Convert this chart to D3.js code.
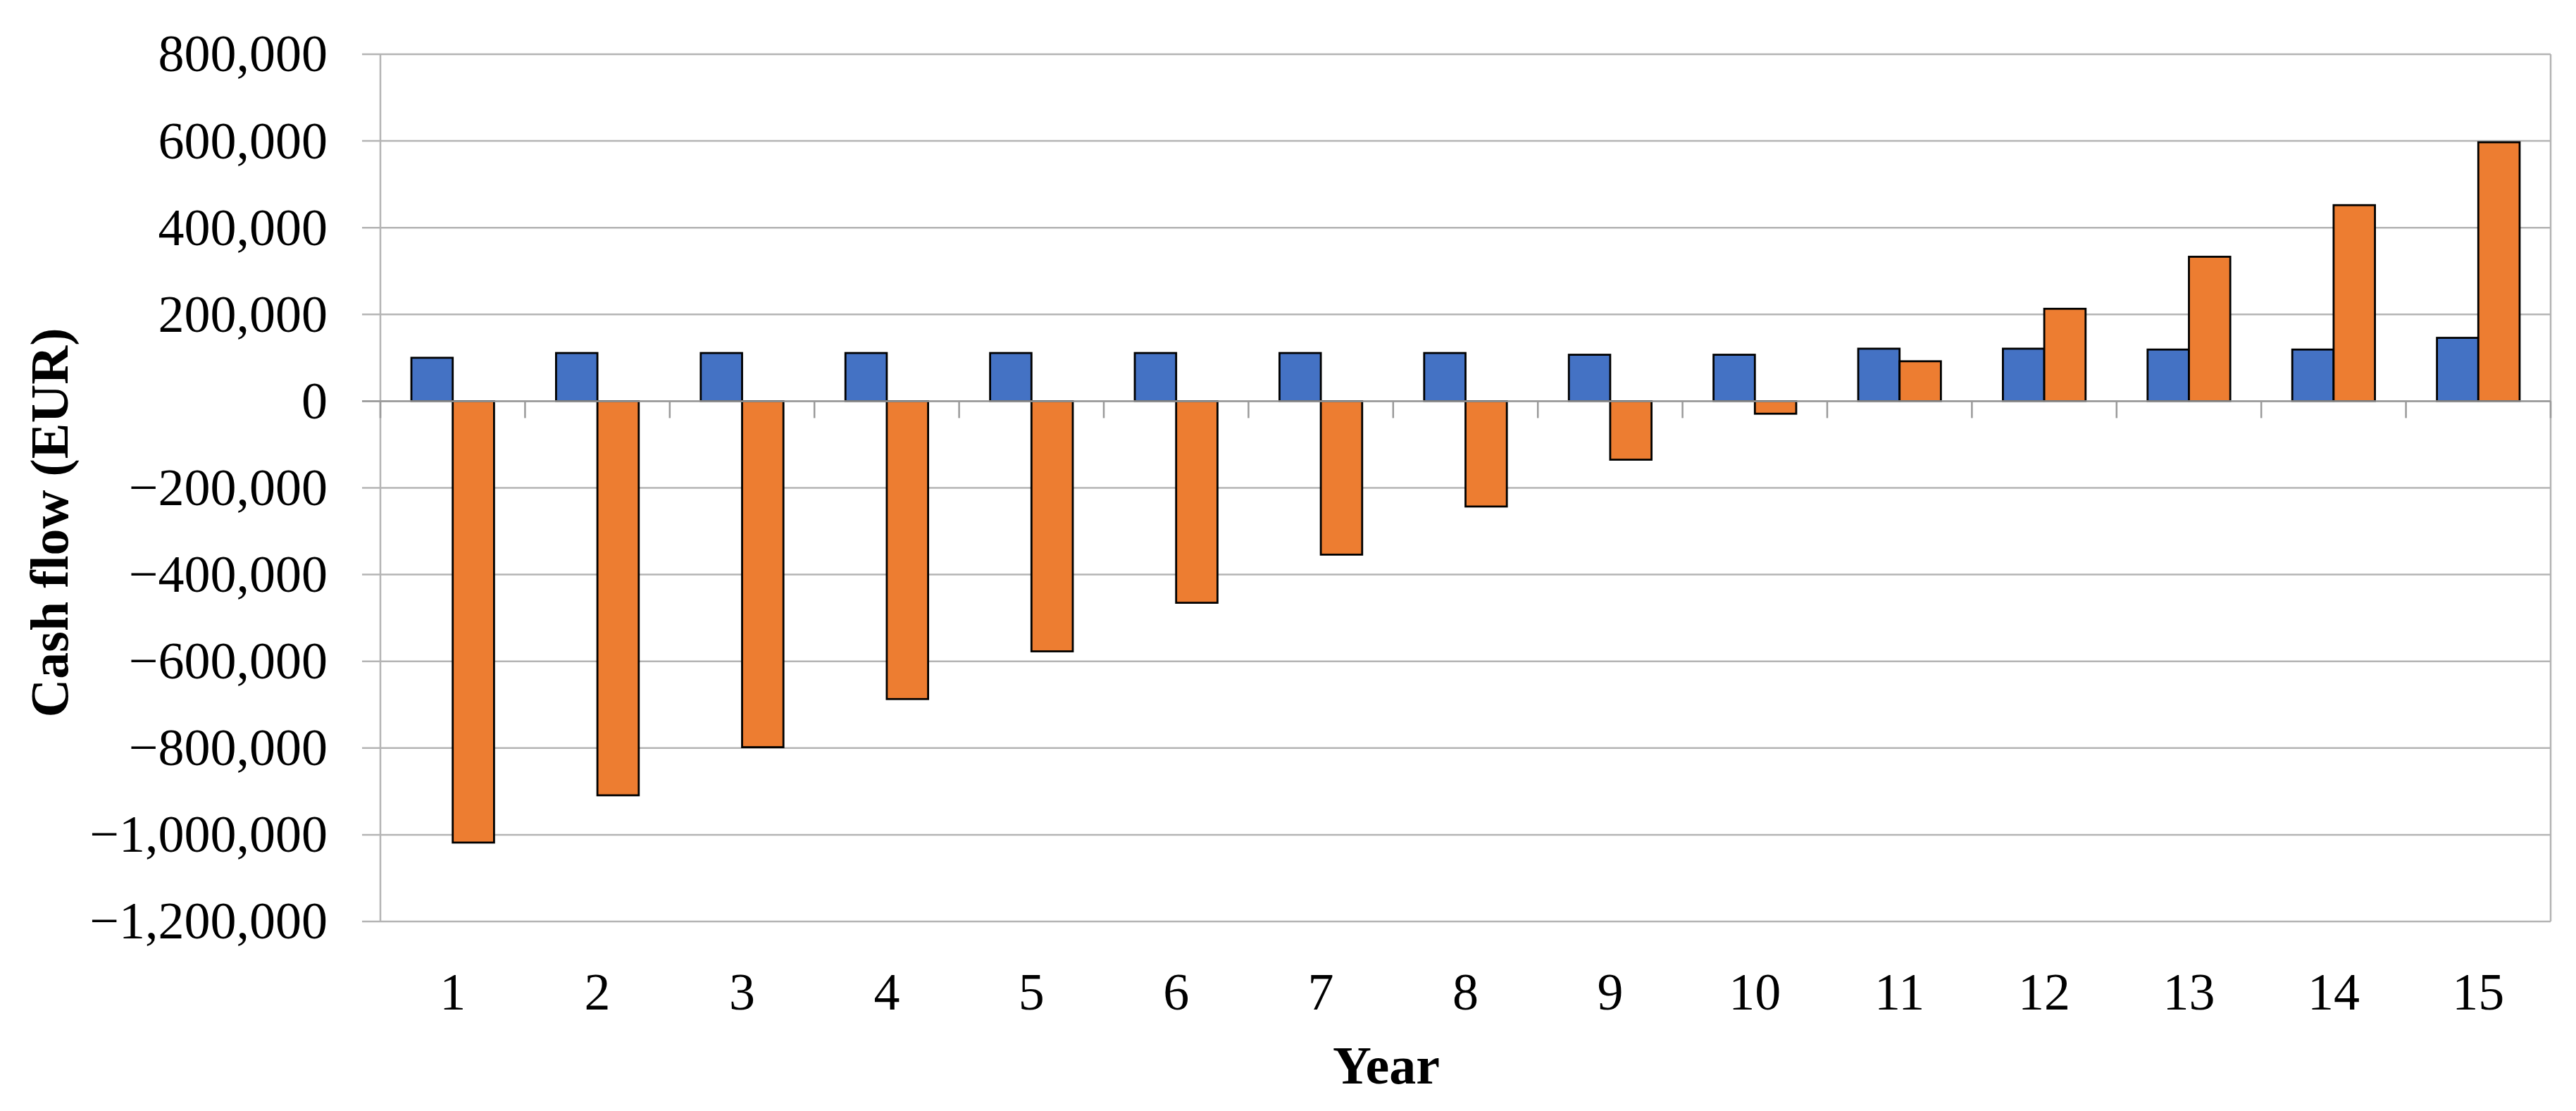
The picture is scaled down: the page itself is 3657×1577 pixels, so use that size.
<!DOCTYPE html>
<html>
<head>
<meta charset="utf-8">
<script src="https://cdn.jsdelivr.net/npm/d3@7"></script>
<style>
  html, body { margin: 0; padding: 0; background: #fff; }
  svg { display: block; }
  text { font-family: "Liberation Serif", "DejaVu Serif", serif; fill: #000; }
</style>
</head>
<body>
<svg id="chart" width="3657" height="1577"></svg>
<script>
// ---- data ----
const years = ["1","2","3","4","5","6","7","8","9","10","11","12","13","14","15"];
const seriesNames = ["annual", "cumulative"];
const annualCashFlow = [100000, 111000, 111000, 111000, 111000, 111000, 111000, 111000, 107000, 107000, 121000, 121000, 119000, 119000, 146000];
const cumulativeCashFlow = [-1018000, -909000, -798000, -687000, -577000, -465000, -354000, -243000, -135000, -29000, 92000, 213000, 333000, 452000, 597000];
const yTicks = [-1200000, -1000000, -800000, -600000, -400000, -200000, 0, 200000, 400000, 600000, 800000];
const yDomain = [-1200000, 800000];
const colors = ["#4472C4", "#ED7D31"];
const xTitle = "Year";
const yTitle = "Cash flow (EUR)";

// ---- layout ----
const plotLeft = 540, plotRight = 3621, plotTop = 77, plotBottom = 1308;
const svg = d3.select("#chart");

const x = d3.scaleBand().domain(years).range([plotLeft, plotRight]).padding(0);
const xi = d3.scaleBand().domain(seriesNames).range([0, x.bandwidth()]).paddingInner(0).paddingOuter(0.75);
const y = d3.scaleLinear().domain(yDomain).range([plotBottom, plotTop]);

const gridColor = "#b4b4b4";

// gridlines (with left ticks)
svg.append("g")
  .selectAll("line")
  .data(yTicks)
  .join("line")
  .attr("x1", plotLeft - 26).attr("x2", plotRight)
  .attr("y1", d => y(d)).attr("y2", d => y(d))
  .attr("stroke", gridColor).attr("stroke-width", 2.5);

// plot frame: left and right verticals
svg.append("line").attr("x1", plotLeft).attr("x2", plotLeft).attr("y1", plotTop).attr("y2", plotBottom)
  .attr("stroke", gridColor).attr("stroke-width", 2.5);
svg.append("line").attr("x1", plotRight).attr("x2", plotRight).attr("y1", plotTop).attr("y2", plotBottom)
  .attr("stroke", gridColor).attr("stroke-width", 2.5);

// y tick labels
const fmt = d3.format(",");
svg.append("g")
  .selectAll("text")
  .data(yTicks)
  .join("text")
  .attr("x", 465)
  .attr("y", d => y(d))
  .attr("dy", "0.33em")
  .attr("text-anchor", "end")
  .attr("font-size", 74)
  .text(d => fmt(d));

// bars
const rows = years.map((yr, i) => ({ year: yr, values: [annualCashFlow[i], cumulativeCashFlow[i]] }));
const groups = svg.append("g").selectAll("g")
  .data(rows).join("g")
  .attr("transform", d => `translate(${x(d.year)},0)`);
groups.selectAll("rect")
  .data(d => d.values.map((v, k) => ({ key: seriesNames[k], v, k })))
  .join("rect")
  .attr("x", d => xi(d.key))
  .attr("width", xi.bandwidth())
  .attr("y", d => Math.min(y(d.v), y(0)))
  .attr("height", d => Math.abs(y(d.v) - y(0)))
  .attr("fill", d => colors[d.k])
  .attr("stroke", "#000")
  .attr("stroke-width", 2.8);

// zero axis line on top with category ticks
const y0 = y(0);
svg.append("line").attr("x1", plotLeft - 26).attr("x2", plotRight).attr("y1", y0).attr("y2", y0)
  .attr("stroke", "#9a9a9a").attr("stroke-width", 2.5);
const boundaries = years.map(d => x(d) + x.bandwidth()).concat([x(years[0])]);
svg.append("g").selectAll("line")
  .data(boundaries).join("line")
  .attr("x1", d => d).attr("x2", d => d)
  .attr("y1", y0).attr("y2", y0 + 24)
  .attr("stroke", "#9a9a9a").attr("stroke-width", 2.5);

// x labels
svg.append("g").selectAll("text")
  .data(years).join("text")
  .attr("x", d => x(d) + x.bandwidth() / 2)
  .attr("y", 1433)
  .attr("text-anchor", "middle")
  .attr("font-size", 74)
  .text(d => d);

// axis titles
svg.append("text")
  .attr("x", 1968).attr("y", 1538)
  .attr("text-anchor", "middle")
  .attr("font-size", 76)
  .attr("font-weight", "bold")
  .text(xTitle);

svg.append("text")
  .attr("transform", "translate(96,742) rotate(-90)")
  .attr("text-anchor", "middle")
  .attr("font-size", 76)
  .attr("font-weight", "bold")
  .text(yTitle);
</script>
</body>
</html>
